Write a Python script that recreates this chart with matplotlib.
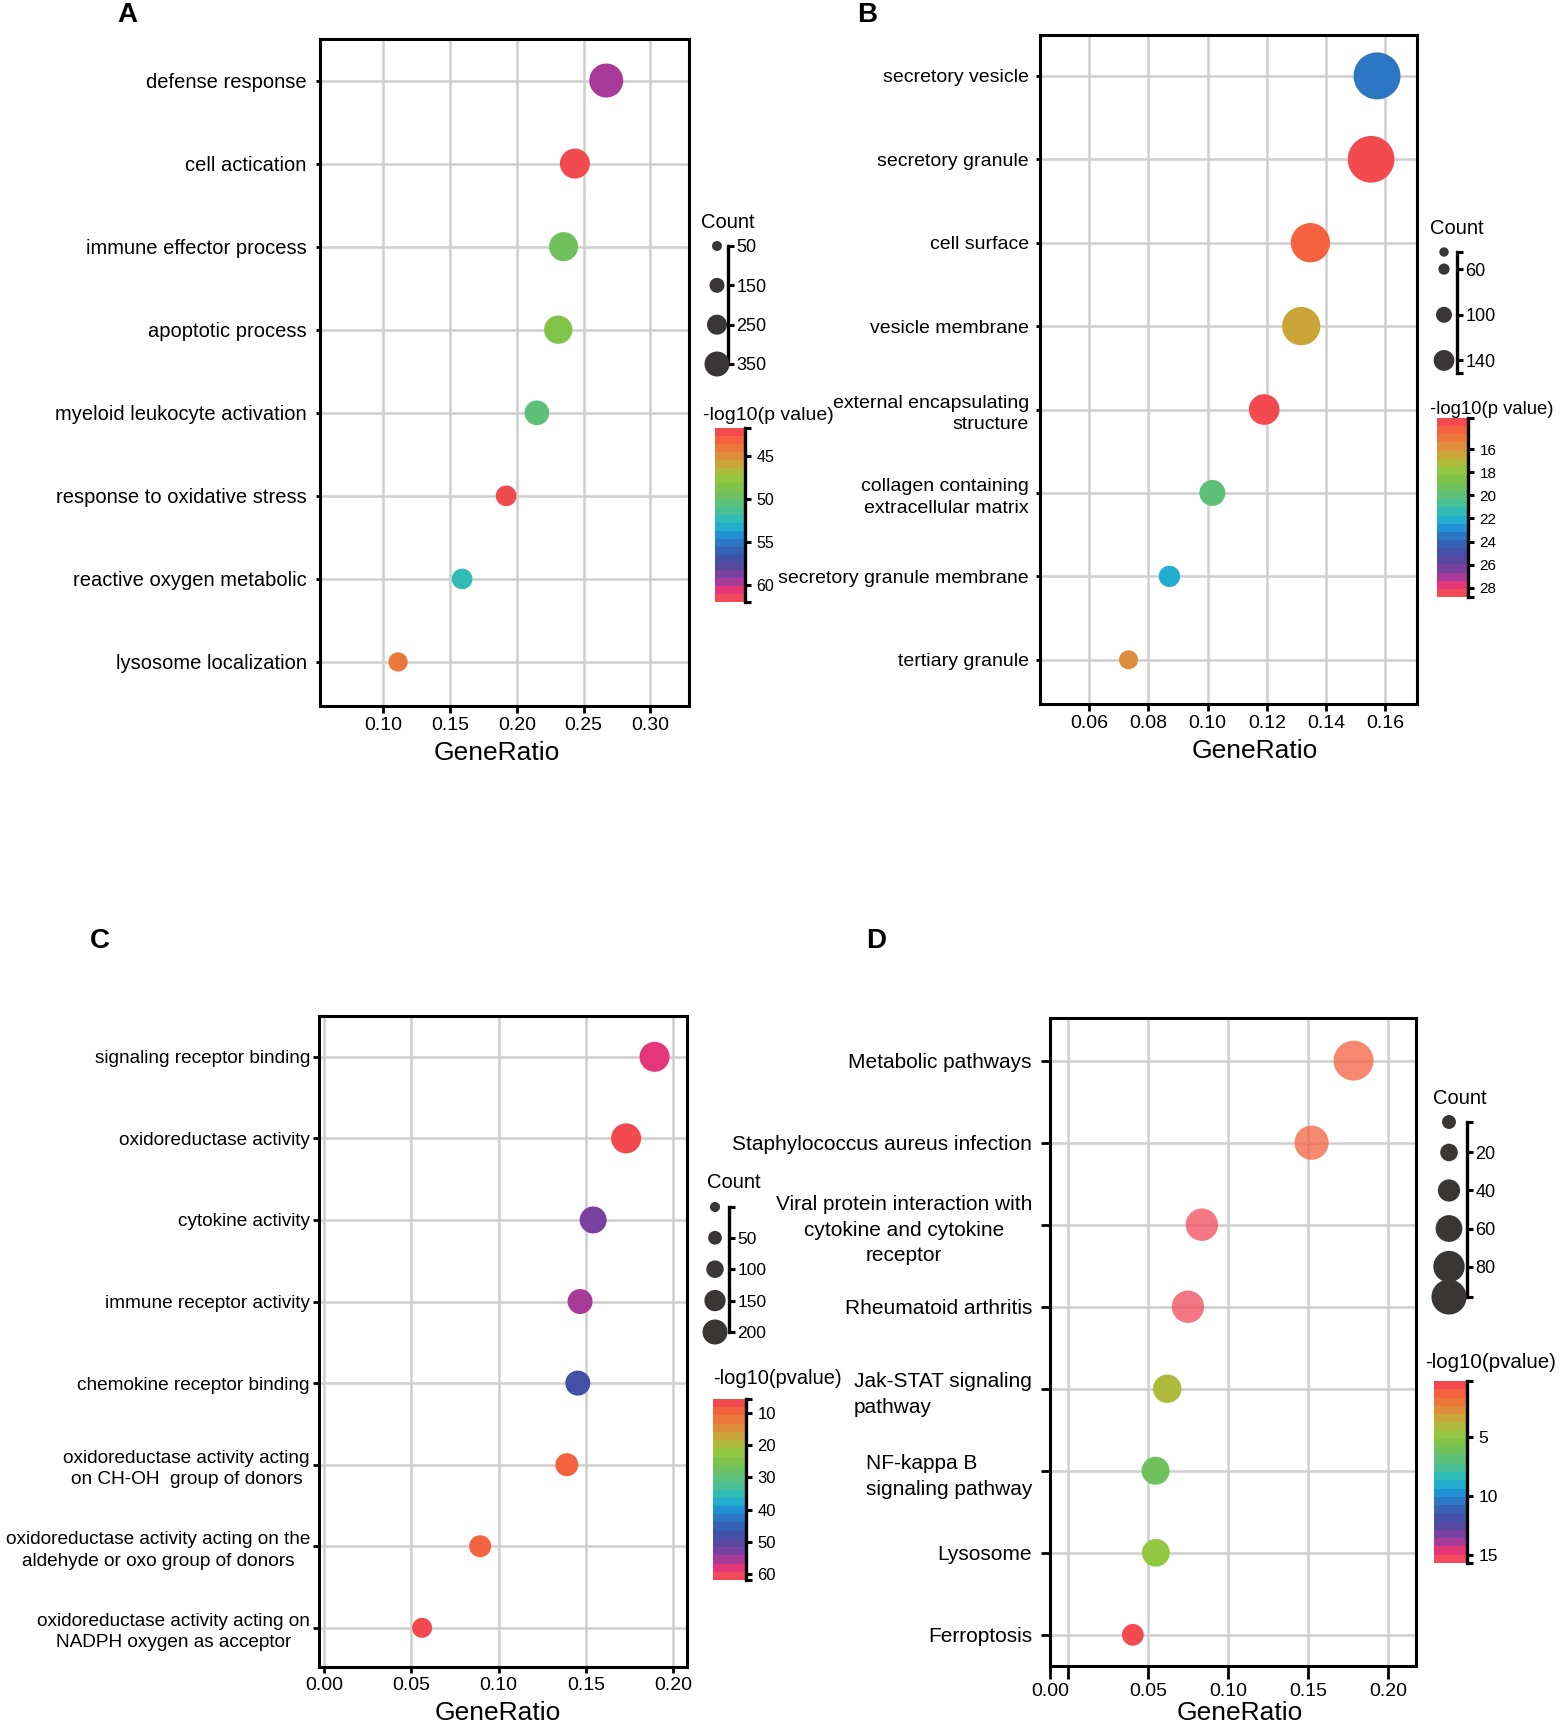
import numpy as np
import matplotlib
matplotlib.use('Agg')
import matplotlib.pyplot as plt
from matplotlib.colors import LinearSegmentedColormap, ListedColormap, Normalize
from matplotlib.cm import ScalarMappable
from matplotlib.ticker import FixedLocator

plt.rcParams['font.family'] = ['Liberation Sans', 'DejaVu Sans']

# ---------------- data ----------------
a_terms = ['defense response', 'cell actication', 'immune effector process', 'apoptotic process',
           'myeloid leukocyte activation', 'response to oxidative stress', 'reactive oxygen metabolic',
           'lysosome localization']
a_ratio = [0.267, 0.2435, 0.235, 0.231, 0.215, 0.192, 0.159, 0.111]
a_count = [530, 450, 430, 416, 344, 264, 264, 236]
a_logp = [59.8, 41.9, 49.8, 48.4, 50.6, 41.9, 52.3, 44.3]
a_xticks = [0.10, 0.15, 0.20, 0.25, 0.30]
a_xticklabels = ['0.10', '0.15', '0.20', '0.25', '0.30']
a_leg_counts = [50, 150, 250, 350]
a_leg_labels = ['50', '150', '250', '350']
a_cbar_ticks = [45, 50, 55, 60]

b_terms = ['secretory vesicle', 'secretory granule', 'cell surface', 'vesicle membrane',
           'external encapsulating\nstructure', 'collagen containing\nextracellular matrix',
           'secretory granule membrane', 'tertiary granule']
b_ratio = [0.1572, 0.1552, 0.1347, 0.1316, 0.1191, 0.1016, 0.0871, 0.0733]
b_count = [358, 356, 294, 286, 222, 183, 144, 125]
b_logp = [23.8, 13.5, 14.3, 16.6, 13.5, 20.0, 22.0, 15.5]
b_xticks = [0.06, 0.08, 0.10, 0.12, 0.14, 0.16]
b_xticklabels = ['0.06', '0.08', '0.10', '0.12', '0.14', '0.16']
b_leg_counts = [45, 60, 100, 140]
b_leg_labels = ['', '60', '100', '140']
b_cbar_ticks = [16, 18, 20, 22, 24, 26, 28]

c_terms = ['signaling receptor binding', 'oxidoreductase activity', 'cytokine activity',
           'immune receptor activity', 'chemokine receptor binding',
           'oxidoreductase activity acting\non CH-OH  group of donors',
           'oxidoreductase activity acting on the\naldehyde or oxo group of donors',
           'oxidoreductase activity acting on\nNADPH oxygen as acceptor']
c_ratio = [0.1894, 0.1731, 0.1542, 0.1467, 0.1454, 0.1391, 0.0894, 0.0561]
c_count = [267, 267, 227, 200, 200, 173, 160, 133]
c_logp = [58.5, 6.1, 53.5, 54.7, 47.9, 8.9, 8.9, 6.1]
c_xticks = [0.00, 0.05, 0.10, 0.15, 0.20]
c_xticklabels = ['0.00', '0.05', '0.10', '0.15', '0.20']
c_leg_counts = [1, 50, 100, 150, 200]
c_leg_labels = ['', '50', '100', '150', '200']
c_cbar_ticks = [10, 20, 30, 40, 50, 60]

d_terms = ['Metabolic pathways', 'Staphylococcus aureus infection',
           'Viral protein interaction with\ncytokine and cytokine\nreceptor',
           'Rheumatoid arthritis', 'Jak-STAT signaling\npathway', 'NF-kappa B\nsignaling pathway',
           'Lysosome', 'Ferroptosis']
d_ratio = [0.1783, 0.1521, 0.0836, 0.0749, 0.0620, 0.0547, 0.0549, 0.0405]
d_count = [117, 92, 84, 84, 67, 65, 64, 38]
d_logp = [1.1, 1.1, 15.5, 15.5, 4.0, 6.0, 5.0, 0.8]
d_xticks = [-0.0112, 0.00, 0.05, 0.10, 0.15, 0.20]
d_xticklabels = ['0.00', '', '0.05', '0.10', '0.15', '0.20']
d_leg_counts = [4, 20, 40, 60, 80, 96]
d_leg_labels = ['', '20', '40', '60', '80', '']
d_cbar_ticks = [5, 10, 15]

# ---------------- style ----------------
W, H, DPI = 1559, 1723, 100
PT = 72.0 / DPI

anchors = [(0.00, '#f24a4f'), (0.06, '#f4683c'), (0.13, '#e3873a'), (0.20, '#c5ab38'),
           (0.27, '#98c83e'), (0.35, '#78c24c'), (0.43, '#5ec07a'), (0.50, '#3cbfa5'),
           (0.56, '#1fb5cc'), (0.62, '#2290d4'), (0.68, '#2f6fc0'), (0.74, '#3a58ad'),
           (0.80, '#4d489f'), (0.85, '#7243a0'), (0.90, '#a03b9e'), (0.95, '#e4357c'),
           (1.00, '#f24a5a')]
_base = LinearSegmentedColormap.from_list('rb', anchors)
cmap = ListedColormap(_base(np.linspace(0, 1, 22)))

fig = plt.figure(figsize=(W / DPI, H / DPI), dpi=DPI)


def px_axes(left, top, right, bottom):
    return fig.add_axes([left / W, 1 - bottom / H, (right - left) / W, (bottom - top) / H])


def draw_panel(box, terms, ratio, count, logp, xlim, ylim, xticks, xticklabels, vrange,
               size_fn, ylab_fs, ytick_len, ytick_pad, xtick_len, aligns, alphas=None,
               xlabelpad=2, xlabel_x=0.5, linespacing=1.35):
    ax = px_axes(*box)
    n = len(terms)
    y = np.arange(n)
    norm = Normalize(*vrange)
    diam = size_fn[0] + size_fn[1] * np.asarray(count, float)
    cols = cmap(norm(np.asarray(logp)))
    if alphas is not None:
        cols[:, 3] = alphas
    ax.scatter(ratio, y, s=(diam * PT) ** 2, c=cols, edgecolors='none', zorder=3)
    ax.set_xlim(*xlim)
    ax.set_ylim(n - 1 + ylim[1], -ylim[0])
    ax.set_yticks(y)
    ax.set_yticklabels(terms, fontsize=ylab_fs)
    for lbl, al in zip(ax.get_yticklabels(), aligns):
        lbl.set_multialignment(al)
        lbl.set_linespacing(linespacing)
    ax.set_xticks(xticks)
    ax.set_xticklabels(xticklabels, fontsize=14)
    ax.grid(True, color='#cfcfcf', lw=1.8)
    ax.set_axisbelow(True)
    for sp in ax.spines.values():
        sp.set_linewidth(2.2)
    ax.tick_params(axis='y', length=ytick_len, width=2, pad=ytick_pad)
    ax.tick_params(axis='x', length=xtick_len, width=2, pad=3)
    ax.set_xlabel('GeneRatio', fontsize=19, labelpad=xlabelpad)
    ax.xaxis.label.set_x(xlabel_x)
    return ax


def size_legend(cx, spine_x, y_top, y_bot, lo, hi, counts, labels, size_fn, fs, title_xy):
    left = spine_x - 30
    ax = px_axes(left, y_top, spine_x, y_bot)
    ax.set_xlim(0, 30)
    ax.set_ylim(hi, lo)
    ax.patch.set_visible(False)
    for k in ['left', 'top', 'bottom']:
        ax.spines[k].set_visible(False)
    ax.spines['right'].set_linewidth(2.4)
    ax.set_xticks([])
    ax.yaxis.tick_right()
    major = [c for c, l in zip(counts, labels) if l]
    ax.set_yticks(major)
    ax.set_yticklabels([l for l in labels if l], fontsize=fs)
    ax.yaxis.set_minor_locator(FixedLocator([lo, hi]))
    ax.tick_params(axis='y', which='both', length=4, width=2.2, pad=2)
    diam = size_fn[0] + size_fn[1] * np.asarray(counts, float)
    ax.scatter([cx - left] * len(counts), counts, s=(diam * PT) ** 2, color='#3a3636',
               edgecolors='none', clip_on=False, zorder=3)
    fig.text(title_xy[0] / W, 1 - title_xy[1] / H, 'Count', fontsize=14.5, ha='left', va='center')


def color_bar(box, vrange, ticks, fs, title, title_xy, title_fs=14.5):
    cax = px_axes(*box)
    sm = ScalarMappable(norm=Normalize(*vrange), cmap=cmap)
    cb = fig.colorbar(sm, cax=cax)
    cb.outline.set_visible(False)
    cb.set_ticks(ticks)
    cb.ax.set_yticklabels([str(t) for t in ticks])
    cax.invert_yaxis()
    cax.yaxis.set_minor_locator(FixedLocator(list(vrange)))
    cax.tick_params(which='both', length=5, width=2.2, labelsize=fs, pad=4)
    cax.plot([1.03, 1.03], [0, 1], transform=cax.transAxes, color='k', lw=2.4, clip_on=False)
    fig.text(title_xy[0] / W, 1 - title_xy[1] / H, title, fontsize=title_fs, ha='left', va='center')


# Panel A
draw_panel((320, 39, 689, 706), a_terms, a_ratio, a_count, a_logp, (0.0525, 0.329), (0.5, 0.53),
           a_xticks, a_xticklabels, (41.7, 62.0), (7.5, 0.05), 14.5, 3, 6.5, 5, ['right'] * 8,
           xlabelpad=5, xlabel_x=0.479)
size_legend(717, 728, 246, 364, 50, 350, a_leg_counts, a_leg_labels, (7.5, 0.05), 13, (701, 222))
color_bar((715, 428, 744, 602), (41.7, 62.0), a_cbar_ticks, 11.5, '-log10(p value)', (703, 415), 14)

# Panel B
draw_panel((1040, 35, 1417, 704), b_terms, b_ratio, b_count, b_logp, (0.0434, 0.1707), (0.49, 0.53),
           b_xticks, b_xticklabels, (13.3, 28.8), (4, 0.12), 14, 3, 5, 5, ['right'] * 8,
           xlabelpad=5, xlabel_x=0.569)
size_legend(1444, 1457, 252, 373, 45, 151, b_leg_counts, b_leg_labels, (4, 0.12), 13, (1430, 228))
color_bar((1437, 418, 1467, 597), (13.3, 28.8), b_cbar_ticks, 11, '-log10(p value)', (1430, 410), 13.3)

# Panel C
draw_panel((319, 1016, 687, 1667), c_terms, c_ratio, c_count, c_logp, (-0.003, 0.208), (0.5, 0.48),
           c_xticks, c_xticklabels, (5.6, 61.9), (10, 0.075), 13.7, 4, 2.5, 4, ['center'] * 8,
           xlabelpad=5, xlabel_x=0.485)
size_legend(715, 729, 1207, 1332, 1, 200, c_leg_counts, c_leg_labels, (10, 0.075), 12.5, (707, 1182))
color_bar((713, 1399, 745, 1580), (5.6, 61.9), c_cbar_ticks, 12, '-log10(pvalue)', (713, 1379), 14.5)

# Panel D
d_alpha = [0.75, 0.75, 0.75, 0.75, 1, 1, 1, 1]
draw_panel((1050, 1018, 1416, 1666), d_terms, d_ratio, d_count, d_logp, (-0.0112, 0.2173), (0.52, 0.38),
           d_xticks, d_xticklabels, (0.2, 15.7), (13, 0.23), 15, 6.5, 6.5, 9,
           ['right', 'right', 'center', 'right', 'left', 'left', 'right', 'right'], alphas=d_alpha,
           xlabelpad=1, xlabel_x=0.518, linespacing=1.45)
size_legend(1449, 1467, 1122, 1297, 4, 96, d_leg_counts, d_leg_labels, (13, 0.23), 13, (1433, 1098))
color_bar((1434, 1381, 1466, 1563), (0.2, 15.7), d_cbar_ticks, 12.5, '-log10(pvalue)', (1425, 1363), 14.8)

# panel letters
for letter, (px, py) in zip(['A', 'B', 'C', 'D'], [(127, 15), (867, 15), (100, 941), (876, 941)]):
    fig.text(px / W, 1 - py / H, letter, fontsize=20, fontweight='bold', ha='center', va='center')

fig.savefig('out.png', dpi=DPI)
